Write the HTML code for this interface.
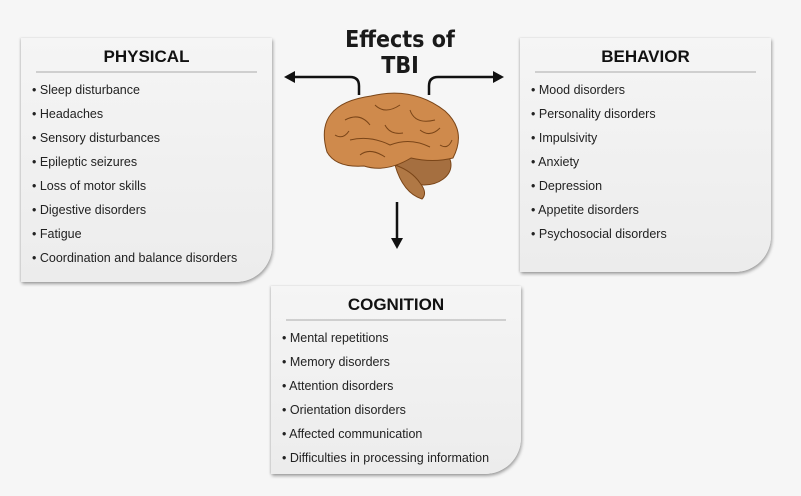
<!DOCTYPE html>
<html><head><style>
html,body{margin:0;padding:0;}
body{width:801px;height:496px;background:#f6f6f6;position:relative;overflow:hidden;font-family:"Liberation Sans",sans-serif;}
.box{position:absolute;background:linear-gradient(#f5f5f5,#ececec);border-bottom-right-radius:36px;box-shadow:1px 2px 3px rgba(0,0,0,.35),-1px 0 2px rgba(0,0,0,.12);}
.box h2{margin:0;position:absolute;left:0;right:0;top:9px;text-align:center;font-size:17px;font-weight:bold;color:#111;}
.box .rule{position:absolute;left:15px;right:15px;top:33px;height:2px;background:#cfcfcf;}
.box ul{list-style:none;margin:0;padding:0;position:absolute;left:11px;top:44px;}
.box li{font-size:12.5px;color:#222;height:24px;line-height:16px;white-space:nowrap;}
.box li:before{content:"• ";}
</style></head><body>
<div class="box" style="left:21px;top:38px;width:251px;height:244px;">
<h2>PHYSICAL</h2><div class="rule"></div>
<ul><li>Sleep disturbance</li><li>Headaches</li><li>Sensory disturbances</li><li>Epileptic seizures</li><li>Loss of motor skills</li><li>Digestive disorders</li><li>Fatigue</li><li>Coordination and balance disorders</li></ul>
</div>
<div class="box" style="left:520px;top:38px;width:251px;height:234px;">
<h2>BEHAVIOR</h2><div class="rule"></div>
<ul><li>Mood disorders</li><li>Personality disorders</li><li>Impulsivity</li><li>Anxiety</li><li>Depression</li><li>Appetite disorders</li><li>Psychosocial disorders</li></ul>
</div>
<div class="box" style="left:271px;top:286px;width:250px;height:188px;">
<h2>COGNITION</h2><div class="rule"></div>
<ul><li>Mental repetitions</li><li>Memory disorders</li><li>Attention disorders</li><li>Orientation disorders</li><li>Affected communication</li><li>Difficulties in processing information</li></ul>
</div>
<div style="position:absolute;left:300px;top:27px;width:200px;text-align:center;font-family:'DejaVu Sans Condensed','DejaVu Sans',sans-serif;font-size:23px;font-weight:bold;line-height:26px;color:#1a1a1a;">Effects of<br>TBI</div>
<svg style="position:absolute;left:0;top:0" width="801" height="496">
<g fill="none" stroke="#111" stroke-width="2.5">
<path d="M359 95 V86 Q359 77 350 77 H292"/>
<path d="M429 95 V86 Q429 77 438 77 H495"/>
<path d="M397 202 V240"/>
</g>
<g fill="#111">
<path d="M284 77 l11 -6 v12z"/><path d="M504 77 l-11 -6 v12z"/><path d="M397 249 l-6 -11 h12z"/>
</g>
<g stroke="#7a4518" stroke-width="1">
<ellipse cx="424" cy="165" rx="27" ry="20" fill="#a56f40"/>
<path d="M395 165 q8 28 27 34 q6 -6 -2 -16 q-8 -12 -25 -18z" fill="#b07845"/>
<path d="M327 152 q-14 -48 44 -56 q42 -10 74 15 q22 20 8 47 q-20 5 -42 0 q-25 15 -47 8 q-28 2 -37 -14z" fill="#cf8a4c"/>
<path d="M345 120 q15 -8 25 5 M375 105 q10 10 25 0 M410 110 q5 15 25 10 M350 140 q20 -5 40 5 q20 -8 40 2 M360 155 q10 -8 25 2 M420 130 q10 8 20 -2 M385 125 q5 10 18 8 M335 135 q8 5 14 -4 M440 145 q8 5 12 -5" fill="none" stroke="#7a4518"/>
</g>
</svg>
</body></html>
